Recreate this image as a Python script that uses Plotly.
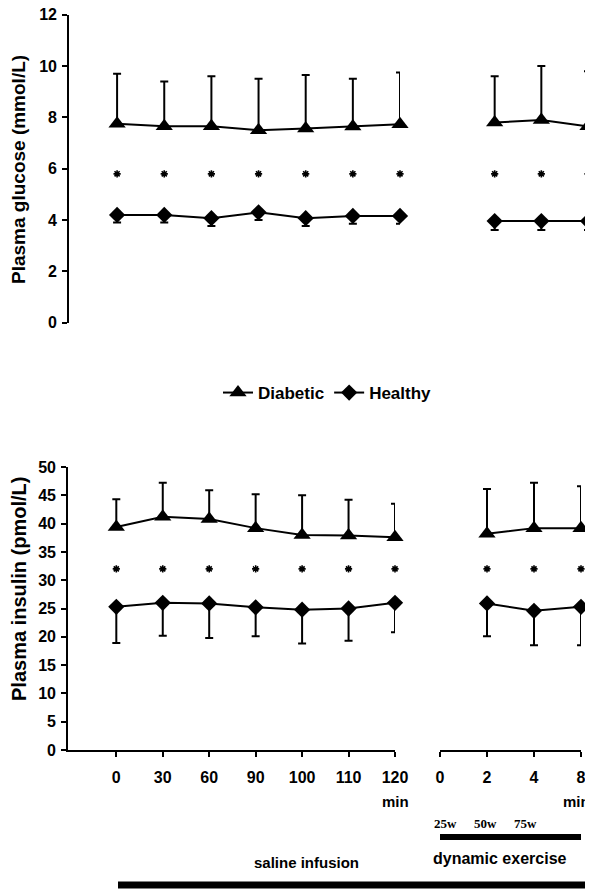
import plotly.graph_objects as go

# ---------------- data ----------------
saline_ticks = ["0", "30", "60", "90", "100", "110", "120"]
exercise_ticks = ["0", "2", "4", "8"]
exercise_times = ["2", "4", "8"]

glucose_diabetic_saline = [7.75, 7.65, 7.65, 7.5, 7.57, 7.64, 7.73]
glucose_diabetic_saline_sd = [1.95, 1.75, 1.95, 2.0, 2.08, 1.86, 2.02]
glucose_diabetic_exercise = [7.8, 7.9, 7.65]
glucose_diabetic_exercise_sd = [1.8, 2.1, 2.15]
glucose_healthy_saline = [4.2, 4.2, 4.07, 4.3, 4.07, 4.16, 4.16]
glucose_healthy_saline_sd = [0.3, 0.3, 0.3, 0.3, 0.3, 0.3, 0.3]
glucose_healthy_exercise = [3.96, 3.96, 3.96]
glucose_healthy_exercise_sd = [0.35, 0.35, 0.35]
glucose_star_level = 5.8

insulin_diabetic_saline = [39.4, 41.2, 40.8, 39.2, 38.0, 37.9, 37.6]
insulin_diabetic_saline_sd = [4.9, 6.0, 5.1, 6.0, 7.0, 6.3, 5.9]
insulin_diabetic_exercise = [38.2, 39.2, 39.2]
insulin_diabetic_exercise_sd = [7.9, 8.0, 7.4]
insulin_healthy_saline = [25.3, 26.0, 25.9, 25.2, 24.8, 25.0, 26.0]
insulin_healthy_saline_sd = [6.4, 5.8, 6.1, 5.1, 6.0, 5.7, 5.2]
insulin_healthy_exercise = [25.9, 24.6, 25.3]
insulin_healthy_exercise_sd = [5.8, 6.1, 6.8]
insulin_star_level = 32

watt_labels = ["25w", "50w", "75w"]

# ---------------- helpers ----------------
OFF = 8  # default page margin around the plot div
W, H = 593 - OFF, 891 - OFF
def px(x):
    return (x - OFF) / W
def py(y):
    return 1 - (y - OFF) / H

FONT = "Liberation Sans, Arial, sans-serif"
BOLD = dict(family=FONT, color="black", weight="bold")

xs_sal = [saline_ticks.index(t) for t in saline_ticks]
xs_ex = [exercise_ticks.index(t) for t in exercise_times]

fig = go.Figure()

def add_series(x, y, sd, xa, ya, symbol, up, name, showlegend):
    zeros = [0] * len(sd)
    fig.add_trace(go.Scatter(
        x=x, y=y, xaxis=xa, yaxis=ya, mode="lines+markers",
        name=name, showlegend=showlegend, legendgroup=name,
        line=dict(color="black", width=2),
        marker=dict(symbol=symbol, size=15 if symbol == "triangle-up" else 12.5, color="black"),
        error_y=dict(type="data", symmetric=False,
                     array=sd if up else zeros,
                     arrayminus=zeros if up else sd,
                     color="black", thickness=2, width=4),
        cliponaxis=False,
    ))

def add_stars(x, level, xa, ya):
    fig.add_trace(go.Scatter(
        x=x, y=[level] * len(x), xaxis=xa, yaxis=ya, mode="markers",
        showlegend=False, cliponaxis=False,
        marker=dict(symbol="asterisk-open", size=6, color="black",
                    line=dict(color="black", width=1.6)),
    ))

# top panel (glucose)
add_series(xs_sal, glucose_diabetic_saline, glucose_diabetic_saline_sd, "x", "y", "triangle-up", True, "Diabetic", True)
add_series(xs_sal, glucose_healthy_saline, glucose_healthy_saline_sd, "x", "y", "diamond", False, "Healthy", True)
add_series(xs_ex, glucose_diabetic_exercise, glucose_diabetic_exercise_sd, "x2", "y2", "triangle-up", True, "Diabetic", False)
add_series(xs_ex, glucose_healthy_exercise, glucose_healthy_exercise_sd, "x2", "y2", "diamond", False, "Healthy", False)
add_stars(xs_sal, glucose_star_level, "x", "y")
add_stars(xs_ex, glucose_star_level, "x2", "y2")

# bottom panel (insulin)
add_series(xs_sal, insulin_diabetic_saline, insulin_diabetic_saline_sd, "x3", "y3", "triangle-up", True, "Diabetic", False)
add_series(xs_sal, insulin_healthy_saline, insulin_healthy_saline_sd, "x3", "y3", "diamond", False, "Healthy", False)
add_series(xs_ex, insulin_diabetic_exercise, insulin_diabetic_exercise_sd, "x4", "y4", "triangle-up", True, "Diabetic", False)
add_series(xs_ex, insulin_healthy_exercise, insulin_healthy_exercise_sd, "x4", "y4", "diamond", False, "Healthy", False)
add_stars(xs_sal, insulin_star_level, "x3", "y3")
add_stars(xs_ex, insulin_star_level, "x4", "y4")

top_dom = [py(322.7), py(14.7)]
bot_dom = [py(750), py(467)]

hidden = dict(visible=False, showgrid=False, zeroline=False, automargin=False)
tickfont = dict(BOLD, size=16)

yaxis_common = dict(showgrid=False, zeroline=False, showline=True, linecolor="black",
                    linewidth=1.6, ticks="outside", ticklen=5, tickwidth=1.5,
                    tickcolor="black", tickfont=tickfont, ticklabelstandoff=2,
                    ticklabeloverflow="allow", automargin=False)
xaxis_common = dict(showgrid=False, zeroline=False, showline=True, linecolor="black",
                    linewidth=1.6, ticks="outside", ticklen=5, tickwidth=1.5,
                    tickcolor="black", tickfont=tickfont, ticklabelstandoff=7,
                    ticklabeloverflow="allow", automargin=False)

fig.update_layout(
    width=W, height=H, margin=dict(l=0, r=0, t=0, b=0, pad=0, autoexpand=False),
    paper_bgcolor="white", plot_bgcolor="white",
    font=dict(family=FONT, size=16, color="black"),
    xaxis=dict(hidden, domain=[px(69), px(400)], range=[-1.02, 6], anchor="y"),
    xaxis2=dict(hidden, domain=[px(448), px(588)], range=[0, 3], anchor="y2"),
    yaxis=dict(yaxis_common, domain=top_dom, range=[0, 12], tickvals=[0, 2, 4, 6, 8, 10, 12],
               anchor="x"),
    yaxis2=dict(hidden, domain=top_dom, range=[0, 12], anchor="x2"),
    xaxis3=dict(xaxis_common, domain=[px(68), px(395)], range=[-1.04, 6], anchor="y3",
                tickvals=xs_sal, ticktext=saline_ticks),
    xaxis4=dict(xaxis_common, domain=[px(440), px(581)], range=[0, 3], anchor="y4",
                tickvals=list(range(len(exercise_ticks))), ticktext=exercise_ticks),
    yaxis3=dict(yaxis_common, domain=bot_dom, range=[0, 50], tickvals=list(range(0, 55, 5)),
                anchor="x3"),
    yaxis4=dict(hidden, domain=bot_dom, range=[0, 50], anchor="x4"),
    legend=dict(orientation="h", x=px(218), y=py(393), xanchor="left", yanchor="middle",
                font=dict(BOLD, size=17), bgcolor="rgba(0,0,0,0)", itemwidth=30,
                tracegroupgap=0),
    showlegend=True,
)

ann = []
ann.append(dict(text="Plasma glucose (mmol/L)", x=px(19), y=py(170), xref="paper", yref="paper",
                textangle=-90, showarrow=False, font=dict(BOLD, size=19),
                xanchor="center", yanchor="middle"))
ann.append(dict(text="Plasma insulin (pmol/L)", x=px(19), y=py(589), xref="paper", yref="paper",
                textangle=-90, showarrow=False, font=dict(BOLD, size=20),
                xanchor="center", yanchor="middle"))
ann.append(dict(text="min", x=6, xref="x3", y=py(801), yref="paper", showarrow=False,
                font=dict(BOLD, size=15), xanchor="center", yanchor="middle"))
ann.append(dict(text="min", x=px(592), xref="paper", y=py(801), yref="paper", showarrow=False,
                font=dict(BOLD, size=15), xanchor="right", yanchor="middle"))
for lbl, xl in zip(watt_labels, [432, 472, 512]):
    ann.append(dict(text=lbl, x=px(xl), y=py(823), xref="paper", yref="paper", showarrow=False,
                    font=dict(family="Liberation Serif, Times New Roman, serif", size=13,
                              color="black", weight="bold"),
                    xanchor="left", yanchor="middle"))
ann.append(dict(text="dynamic exercise", x=px(500), y=py(858), xref="paper", yref="paper",
                showarrow=False, font=dict(BOLD, size=16), xanchor="center", yanchor="middle"))
ann.append(dict(text="saline infusion", x=px(306), y=py(862), xref="paper", yref="paper",
                showarrow=False, font=dict(BOLD, size=15), xanchor="center", yanchor="middle"))
fig.update_layout(annotations=ann)

shapes = [
    dict(type="line", xref="x4", yref="paper", x0=0, x1=3, y0=py(837), y1=py(837),
         line=dict(color="black", width=6)),
    dict(type="line", xref="paper", yref="paper", x0=px(118), x1=px(585), y0=py(885), y1=py(885),
         line=dict(color="black", width=7)),
]
fig.update_layout(shapes=shapes)

fig.write_html("out.html")
